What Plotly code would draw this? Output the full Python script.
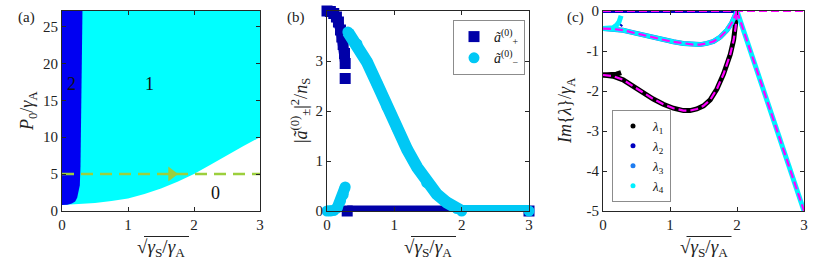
import plotly.graph_objects as go

W, H = 830, 268
FONT = "Liberation Serif, Times New Roman, serif"

# ---------------- Panel (a) data ----------------
a_lower_x = [0, 0.25, 0.5, 0.75, 1.0, 1.25, 1.5, 1.75, 2.0, 2.25, 2.5, 2.75, 3.0]
a_lower_y = [0.8, 0.9, 1.1, 1.35, 1.7, 2.3, 3.05, 3.95, 5.0, 6.25, 7.55, 8.8, 10.0]
a_top = 27.1
a_blue_x = [0, 0.08, 0.15, 0.2, 0.23, 0.25, 0.27, 0.28, 0.29, 0.3, 0.31, 0]
a_blue_y = [0.8, 0.85, 1.0, 1.3, 1.8, 2.5, 3.5, 6, 12, 20, 27.1, 27.1]
a_dash_x = [0, 3]
a_dash_y = [5, 5]
a_arrow_x = [1.66]
a_arrow_y = [5]
a_labels = ["2", "1", "0"]
a_label_x = [0.14, 1.32, 2.33]
a_label_y = [17.2, 17.2, 2.5]

# ---------------- Panel (b) data ----------------
bp_up_x = [0, 0.05, 0.1, 0.14, 0.17, 0.2, 0.22, 0.24, 0.26, 0.27]
bp_up_y = [4.0, 3.99, 3.95, 3.88, 3.78, 3.62, 3.48, 3.33, 3.15, 2.95]
bp_iso_x = [0.27]
bp_iso_y = [2.65]
bp_low_x = [0.3, 3.0]
bp_low_y = [0, 0]
bm_small_x = [0, 0.05, 0.1, 0.15, 0.2, 0.24, 0.27]
bm_small_y = [0, 0, 0.01, 0.06, 0.2, 0.33, 0.48]
bm_main_x = [0.31, 0.445, 0.593, 0.742, 0.89, 1.04, 1.19, 1.34, 1.48, 1.63, 1.78, 1.93, 2.0, 3.0]
bm_main_y = [3.58, 3.34, 2.98, 2.55, 2.09, 1.66, 1.23, 0.87, 0.57, 0.34, 0.17, 0.05, 0, 0]

# ---------------- Panel (c) data ----------------
c_low_x = [0, 0.15, 0.3, 0.45, 0.6, 0.75, 0.9, 1.05, 1.2, 1.3, 1.4, 1.5, 1.6, 1.7, 1.8, 1.85, 1.9, 1.95, 1.98, 2.0]
c_low_y = [-1.6, -1.63, -1.72, -1.88, -2.05, -2.2, -2.33, -2.43, -2.49, -2.49, -2.45, -2.37, -2.22, -1.95, -1.57, -1.35, -1.08, -0.72, -0.4, 0]
c_l1_branch_x = [0, 0.1, 0.2, 0.27]
c_l1_branch_y = [-1.6, -1.6, -1.58, -1.54]
c_up_x = [0, 0.15, 0.3, 0.45, 0.6, 0.75, 0.9, 1.05, 1.2, 1.35, 1.45, 1.55, 1.65, 1.75, 1.85, 1.92, 1.97, 2.0]
c_up_y = [-0.44, -0.45, -0.48, -0.54, -0.6, -0.67, -0.72, -0.77, -0.81, -0.84, -0.84, -0.81, -0.76, -0.65, -0.48, -0.3, -0.12, 0]
c_l4_branch_x = [0, 0.1, 0.15, 0.2, 0.24, 0.27]
c_l4_branch_y = [-0.44, -0.44, -0.42, -0.36, -0.27, -0.12]
c_l3_branch_x = [0.25, 0.27]
c_l3_branch_y = [-0.36, -0.32]
c_lin_x = [2.0, 3.0]
c_lin_y = [0, -5]
c_l2_x = [0, 2.0]
c_l2_y = [0, 0]
c_zero_x = [0, 3.0]
c_zero_y = [0, 0]

# ticks
x_ticks = [0, 1, 2, 3]
x_ticktext = ["0", "1", "2", "3"]
a_yticks = [0, 5, 10, 15, 20, 25]
a_yticktext = ["0", "5", "10", "15", "20", "25"]
b_yticks = [0, 1, 2, 3]
b_yticktext = ["0", "1", "2", "3"]
c_yticks = [0, -1, -2, -3, -4, -5]
c_yticktext = ["0", "-1", "-2", "-3", "-4", "-5"]

# colours
BLUE_FILL = "#0000f2"
CYAN_FILL = "#00ffff"
NAVY = "#0000a8"
SKY = "#00c8f5"
MAGENTA = "#ff00ff"
L1C = "#000000"
L2C = "#0000c0"
L3C = "#1e7cf0"
L4C = "#00f0ff"
GREEN = "#9ccf3c"


def px(p):
    return p / W


def py(p):
    return 1 - p / H


top, bot = 11, 211
ydom = [py(bot), py(top)]
xdoms = [[px(62), px(260)], [px(327), px(529)], [px(603), px(804)]]

fig = go.Figure()

# ---- (a)
fig.add_trace(go.Scatter(x=a_lower_x + [3, 0], y=a_lower_y + [a_top, a_top], fill="toself",
                         fillcolor=CYAN_FILL, line=dict(width=0, color=CYAN_FILL), mode="lines",
                         showlegend=False, xaxis="x", yaxis="y", hoverinfo="skip"))
fig.add_trace(go.Scatter(x=a_blue_x, y=a_blue_y, fill="toself", fillcolor=BLUE_FILL,
                         line=dict(width=0, color=BLUE_FILL), mode="lines",
                         showlegend=False, xaxis="x", yaxis="y", hoverinfo="skip"))
fig.add_trace(go.Scatter(x=a_dash_x, y=a_dash_y, mode="lines",
                         line=dict(color=GREEN, width=2.5, dash="12px,7px"),
                         showlegend=False, xaxis="x", yaxis="y"))
fig.add_trace(go.Scatter(x=a_arrow_x, y=a_arrow_y, mode="markers",
                         marker=dict(symbol="triangle-right", size=13, color=GREEN),
                         showlegend=False, xaxis="x", yaxis="y"))

# ---- (b)
fig.add_trace(go.Scatter(x=bp_up_x, y=bp_up_y, mode="lines", line=dict(color=NAVY, width=10),
                         showlegend=False, xaxis="x2", yaxis="y2", cliponaxis=False))
fig.add_trace(go.Scatter(x=bp_low_x, y=bp_low_y, mode="lines", line=dict(color=NAVY, width=11),
                         showlegend=False, xaxis="x2", yaxis="y2", cliponaxis=False))
fig.add_trace(go.Scatter(x=bp_up_x + bp_iso_x + bp_low_x, y=bp_up_y + bp_iso_y + bp_low_y,
                         mode="markers", marker=dict(symbol="square", size=11, color=NAVY, line=dict(width=0)),
                         name="<i>ã</i><sup>(0)</sup><sub>+</sub>", legend="legend",
                         xaxis="x2", yaxis="y2", cliponaxis=False))
fig.add_trace(go.Scatter(x=bm_small_x, y=bm_small_y, mode="lines", line=dict(color=SKY, width=11),
                         showlegend=False, xaxis="x2", yaxis="y2", cliponaxis=False))
fig.add_trace(go.Scatter(x=bm_main_x, y=bm_main_y, mode="lines", line=dict(color=SKY, width=12),
                         showlegend=False, xaxis="x2", yaxis="y2", cliponaxis=False))
fig.add_trace(go.Scatter(x=bm_small_x + bm_main_x, y=bm_small_y + bm_main_y,
                         mode="markers", marker=dict(symbol="circle", size=11, color=SKY, line=dict(width=0)),
                         name="<i>ã</i><sup>(0)</sup><sub>−</sub>", legend="legend",
                         xaxis="x2", yaxis="y2", cliponaxis=False))

# ---- (c)
lw = 5
fig.add_trace(go.Scatter(x=c_low_x, y=c_low_y, mode="lines", line=dict(color=L1C, width=lw),
                         showlegend=False, xaxis="x3", yaxis="y3"))
fig.add_trace(go.Scatter(x=c_l1_branch_x, y=c_l1_branch_y, mode="lines", line=dict(color=L1C, width=lw),
                         showlegend=False, xaxis="x3", yaxis="y3"))
fig.add_trace(go.Scatter(x=c_l2_x, y=c_l2_y, mode="lines", line=dict(color=L2C, width=4),
                         showlegend=False, xaxis="x3", yaxis="y3", cliponaxis=False))
fig.add_trace(go.Scatter(x=c_up_x, y=c_up_y, mode="lines", line=dict(color=L3C, width=lw),
                         showlegend=False, xaxis="x3", yaxis="y3"))
fig.add_trace(go.Scatter(x=c_l3_branch_x, y=c_l3_branch_y, mode="lines", line=dict(color=L2C, width=lw),
                         showlegend=False, xaxis="x3", yaxis="y3"))
fig.add_trace(go.Scatter(x=c_up_x, y=c_up_y, mode="lines", line=dict(color=L4C, width=lw - 0.5),
                         showlegend=False, xaxis="x3", yaxis="y3"))
fig.add_trace(go.Scatter(x=c_l4_branch_x, y=c_l4_branch_y, mode="lines", line=dict(color=L4C, width=lw),
                         showlegend=False, xaxis="x3", yaxis="y3"))
fig.add_trace(go.Scatter(x=c_lin_x, y=c_lin_y, mode="lines", line=dict(color=L4C, width=lw),
                         showlegend=False, xaxis="x3", yaxis="y3", cliponaxis=False))
for xs, ys in [(c_zero_x, c_zero_y), (c_up_x, c_up_y), (c_low_x, c_low_y), (c_lin_x, c_lin_y)]:
    fig.add_trace(go.Scatter(x=xs, y=ys, mode="lines",
                             line=dict(color=MAGENTA, width=2.2, dash="8px,4px"),
                             showlegend=False, xaxis="x3", yaxis="y3", cliponaxis=False))
for nm, col in [("<i>λ</i><sub>1</sub>", L1C), ("<i>λ</i><sub>2</sub>", L2C),
                ("<i>λ</i><sub>3</sub>", L3C), ("<i>λ</i><sub>4</sub>", L4C)]:
    fig.add_trace(go.Scatter(x=[None], y=[None], mode="markers",
                             marker=dict(symbol="circle", size=5, color=col),
                             name=nm, legend="legend2", xaxis="x3", yaxis="y3"))

AXC = "#262626"


def xax(dom, anchor):
    return dict(domain=dom, range=[0, 3], tickvals=x_ticks, ticktext=x_ticktext, anchor=anchor,
                ticks="inside", ticklen=4, tickcolor=AXC, showline=True, linecolor=AXC, linewidth=1,
                mirror="ticks", showgrid=False, zeroline=False, automargin=False,
                tickfont=dict(family=FONT, size=15, color="#222"))


def yax(rng, tv, tt, anchor):
    return dict(domain=ydom, range=rng, tickvals=tv, ticktext=tt, anchor=anchor,
                ticks="inside", ticklen=4, tickcolor=AXC, showline=True, linecolor=AXC, linewidth=1,
                mirror="ticks", showgrid=False, zeroline=False, automargin=False,
                tickfont=dict(family=FONT, size=15, color="#222"))


def ann(x, y, text, size, **kw):
    d = dict(x=x, y=y, xref="paper", yref="paper", text=text, showarrow=False,
             xanchor="center", yanchor="middle", font=dict(family=FONT, size=size, color="#222"))
    d.update(kw)
    return d


xtitle = "√<i>γ</i><sub>S</sub>/<i>γ</i><sub>A</sub>"
annots = []
shapes = []
for cx in [161, 428, 703.5]:
    annots.append(ann(px(cx), py(248), xtitle, 19))
    shapes.append(dict(type="line", xref="paper", yref="paper", x0=px(cx - 17), x1=px(cx + 28),
                       y0=py(236.5), y1=py(236.5), line=dict(color="#222", width=1)))
annots.append(ann(px(28), py(111), "<i>P</i><sub>0</sub>/<i>γ</i><sub>A</sub>", 18, textangle=-90))
annots.append(ann(px(300), py(111), "|<i>ã</i><sup>(0)</sup><sub>±</sub>|<sup>2</sup>/<i>n</i><sub>S</sub>",
                  18, textangle=-90))
annots.append(ann(px(566), py(111), "<i>Im</i>{<i>λ</i>}/<i>γ</i><sub>A</sub>", 18, textangle=-90))
for lab, cx in [("(a)", 26), ("(b)", 296), ("(c)", 575)]:
    annots.append(ann(px(cx), py(17), lab, 15))
for t, lx, ly in zip(a_labels, a_label_x, a_label_y):
    annots.append(dict(x=lx, y=ly, xref="x", yref="y", text=t, showarrow=False,
                       xanchor="center", yanchor="middle",
                       font=dict(family=FONT, size=18, color="#111")))

fig.update_layout(
    template="none",
    font=dict(family=FONT, size=15, color="#222"),
    width=W, height=H, margin=dict(l=0, r=0, t=0, b=0, autoexpand=False),
    paper_bgcolor="white", plot_bgcolor="white",
    xaxis=xax(xdoms[0], "y"), yaxis=yax([0, a_top], a_yticks, a_yticktext, "x"),
    xaxis2=xax(xdoms[1], "y2"), yaxis2=yax([0, 4], b_yticks, b_yticktext, "x2"),
    xaxis3=xax(xdoms[2], "y3"), yaxis3=yax([-5, 0], c_yticks, c_yticktext, "x3"),
    annotations=annots, shapes=shapes,
    legend=dict(x=px(525), y=py(20), xanchor="right", yanchor="top", bgcolor="white",
                bordercolor="#8c8c8c", borderwidth=1, font=dict(family=FONT, size=14, color="#111"),
                itemwidth=30, tracegroupgap=0),
    legend2=dict(x=px(612), y=py(202), xanchor="left", yanchor="bottom", bgcolor="white",
                 bordercolor="#8c8c8c", borderwidth=1, font=dict(family=FONT, size=13, color="#111"),
                 itemwidth=30, tracegroupgap=0),
)

fig.write_html("out.html", post_script="document.body.style.margin='0';",
               config={"displayModeBar": False})
